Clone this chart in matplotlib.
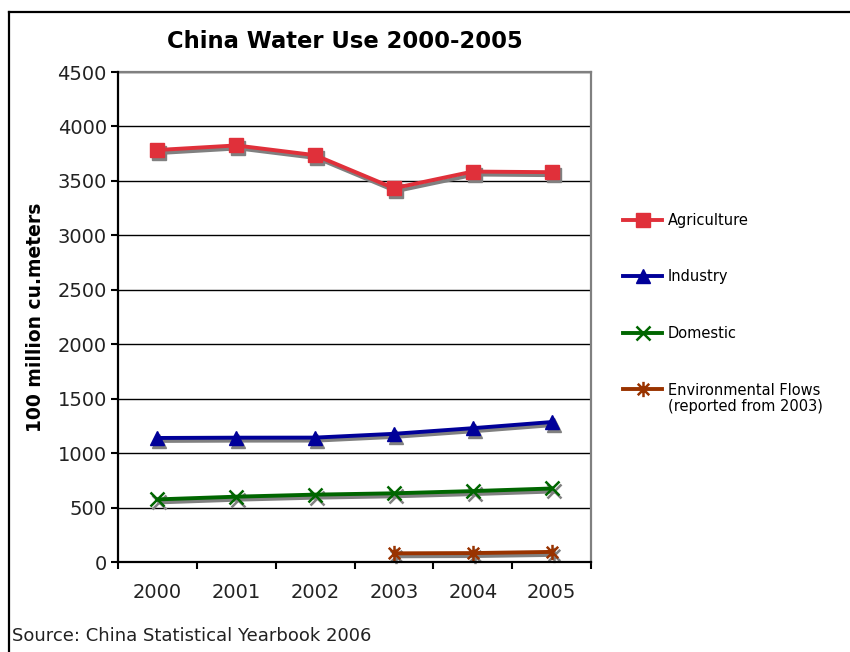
import matplotlib
matplotlib.use("Agg")
import matplotlib.pyplot as plt
import matplotlib.transforms as mtransforms
from matplotlib.lines import Line2D
from matplotlib.path import Path

years = ["2000", "2001", "2002", "2003", "2004", "2005"]
agriculture = [3783.5, 3825.7, 3736.2, 3432.8, 3585.7, 3580.0]
industry = [1139.1, 1141.8, 1142.4, 1177.2, 1228.9, 1285.2]
domestic = [574.9, 599.9, 618.7, 630.9, 651.2, 675.1]
env_years = ["2003", "2004", "2005"]
environmental = [79.5, 82.0, 92.7]

plt.rcParams["font.family"] = ["DejaVu Sans"]

fig = plt.figure(figsize=(8.5, 6.52), dpi=100)
ax = fig.add_axes([118 / 850, 1 - 562 / 652, (591 - 118) / 850, (562 - 72) / 652])

x_all = list(range(len(years)))
x_env = [years.index(y) for y in env_years]

# asterisk marker: vertical bar plus a diagonal cross
star_path = Path(
    [(0, -1), (0, 1), (-0.75, -0.75), (0.75, 0.75), (-0.75, 0.75), (0.75, -0.75)],
    [Path.MOVETO, Path.LINETO, Path.MOVETO, Path.LINETO, Path.MOVETO, Path.LINETO],
)

series = [
    (x_all, agriculture, "Agriculture", "#E0303A", dict(marker="s", markersize=9.5)),
    (x_all, industry, "Industry", "#000099", dict(marker="^", markersize=10)),
    (x_all, domestic, "Domestic", "#006600", dict(marker="x", markersize=10, markeredgewidth=1.8)),
    (x_env, environmental, "Environmental Flows", "#993300",
     dict(marker=star_path, markersize=11, markeredgewidth=1.8)),
]

# drop shadow: same data, shifted a couple of pixels right and down
shadow_tf = ax.transData + mtransforms.ScaledTranslation(2 / 100, -3 / 100, fig.dpi_scale_trans)

handles = []
for xs, ys, label, color, mk in series:
    ax.plot(xs, ys, color="#808080", lw=2.8, markerfacecolor="#808080",
            markeredgecolor="#808080", transform=shadow_tf, zorder=2.5, clip_on=False, **mk)
    ax.plot(xs, ys, color=color, lw=2.8, markerfacecolor=color, markeredgecolor=color,
            zorder=3, clip_on=False, **mk)
    handles.append(Line2D([], [], color=color, lw=2.8, markerfacecolor=color,
                          markeredgecolor=color, label=label, **mk))

ax.set_xlim(-0.5, len(years) - 0.5)
ax.set_ylim(0, 4500)
ax.set_yticks(range(0, 4501, 500))
ax.set_xticks(x_all)
ax.set_xticklabels(years)
ax.set_xticks([i - 0.5 for i in range(len(years) + 1)], minor=True)
ax.tick_params(axis="x", which="major", length=0, pad=15, labelsize=14, labelcolor="#222222")
ax.tick_params(axis="x", which="minor", length=5, width=1.5, direction="out", color="black")
ax.tick_params(axis="y", length=5, width=1.5, direction="out", labelsize=14, pad=3,
               labelcolor="#222222")
ax.yaxis.grid(True, color="black", lw=1)
ax.set_axisbelow(True)

for side in ("left", "bottom"):
    ax.spines[side].set_color("black")
    ax.spines[side].set_linewidth(1.6)
    ax.spines[side].set_zorder(4)
for side in ("top", "right"):
    ax.spines[side].set_color("#808080")
    ax.spines[side].set_linewidth(1.6)

ax.set_ylabel("100 million cu.meters", fontsize=13.5, fontweight="bold", labelpad=9)
fig.text(345 / 850, 1 - 42 / 652, "China Water Use 2000-2005", fontsize=16.3,
         fontweight="bold", ha="center", va="center")

leg = fig.legend(handles=handles, loc="upper left", bbox_to_anchor=(617 / 850, 1 - 207 / 652),
                 frameon=False, fontsize=10.5, handlelength=2.7, handletextpad=0.4,
                 labelspacing=2.85, borderaxespad=0)
fig.text(668 / 850, 1 - 407 / 652, "(reported from 2003)", fontsize=10.5,
         ha="left", va="center")

fig.text(12 / 850, 1 - 636 / 652, "Source: China Statistical Yearbook 2006", fontsize=13,
         ha="left", va="center", color="#222222")

# outer frame
fig.add_artist(Line2D([9 / 850, 9 / 850], [0, 1 - 12 / 652], color="black", lw=1.6,
                      transform=fig.transFigure))
fig.add_artist(Line2D([9 / 850, 1], [1 - 12 / 652, 1 - 12 / 652], color="black", lw=1.6,
                      transform=fig.transFigure))

fig.savefig("out.png", dpi=100)
